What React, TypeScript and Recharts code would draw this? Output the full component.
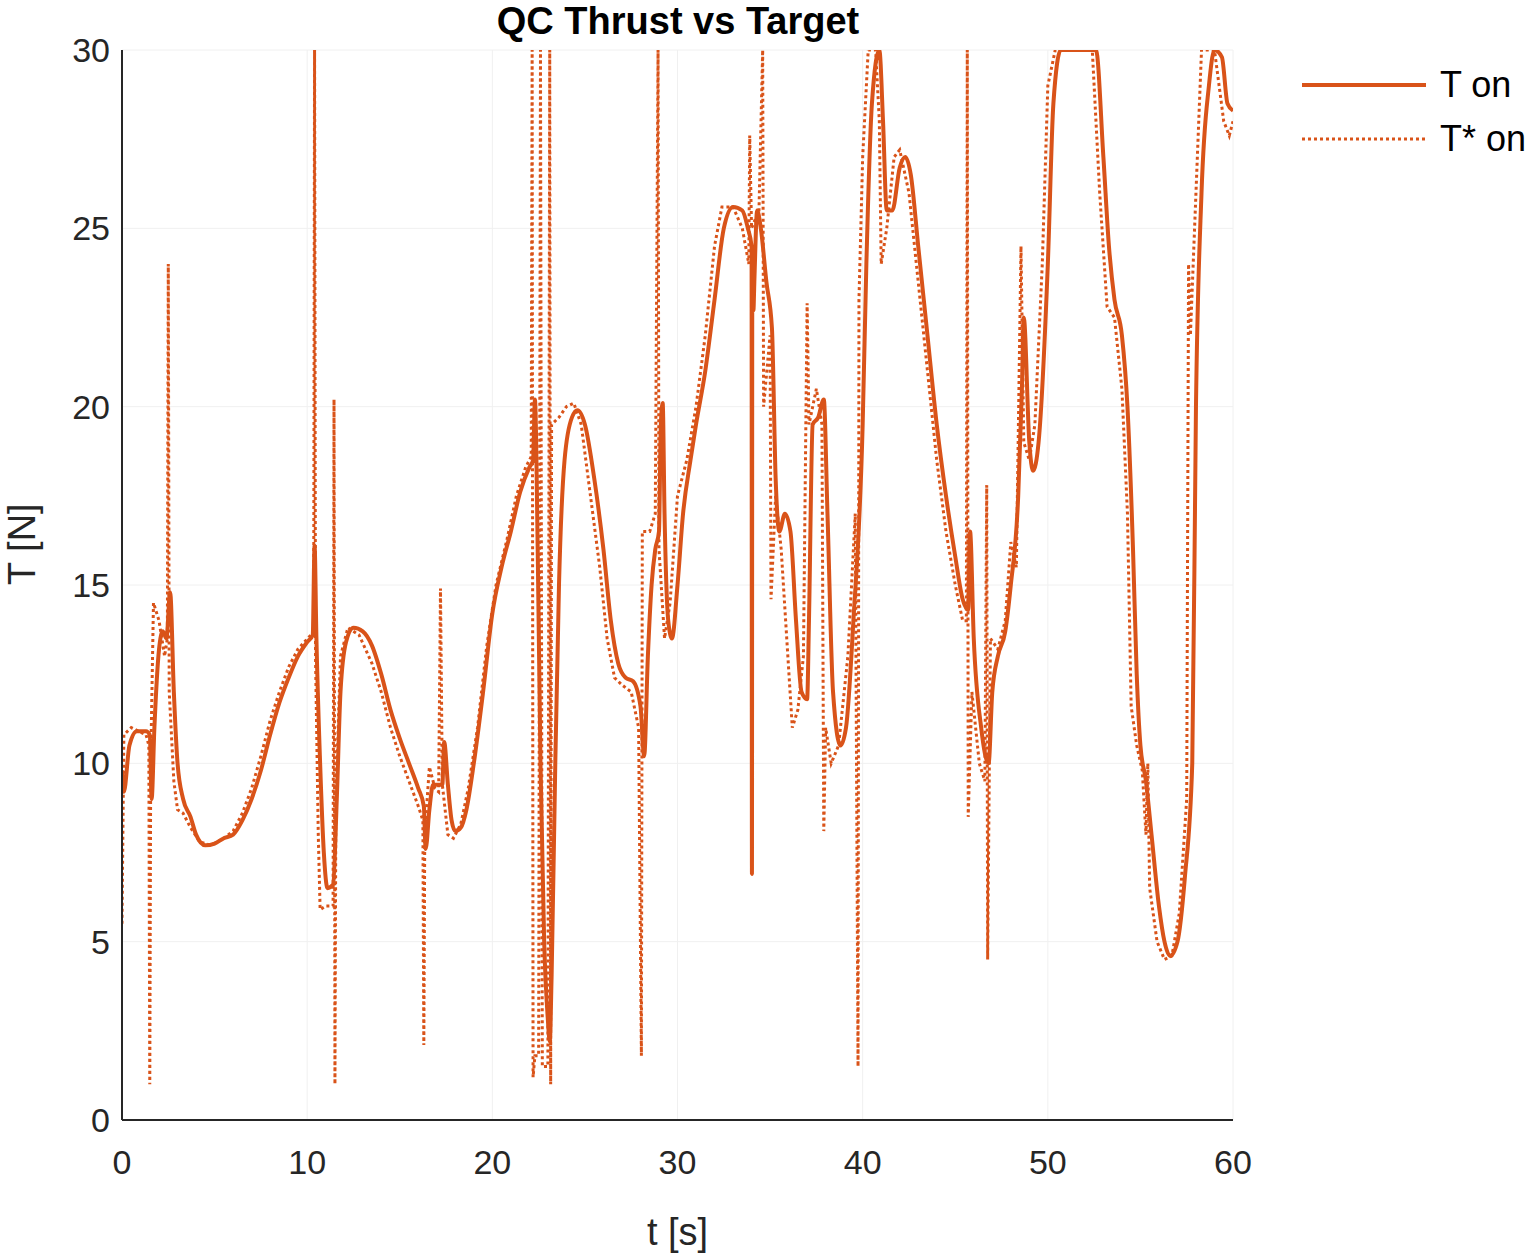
import React from "react";
import { LineChart, Line, XAxis, YAxis, CartesianGrid } from "recharts";

const tOn: [number, number][] = [
[0,9.8],[0.1,9.2],[0.4,10.5],[0.8,10.9],[1.3,10.9],[1.5,10.8],[1.6,9.0],[1.75,11],[2.0,13.2],[2.2,13.7],[2.4,13.5],[2.6,14.8],[2.8,12],[3.0,10],[3.3,9.0],[3.7,8.5],[4.0,8.0],[4.5,7.7],[5,7.75],[5.5,7.9],[6,8.0],[6.5,8.4],[7,9.0],[7.5,9.8],[8,10.8],[8.5,11.7],[9,12.4],[9.5,13.0],[10,13.4],[10.3,13.6],[10.4,16.1],[10.5,13.5],[10.7,10],[10.9,7.5],[11.1,6.5],[11.4,6.6],[11.6,9],[11.8,12],[12.1,13.4],[12.5,13.8],[13,13.7],[13.5,13.3],[14,12.5],[14.5,11.5],[15,10.7],[15.5,10],[16,9.3],[16.3,8.8],[16.4,7.6],[16.6,8.7],[16.8,9.4],[17.1,9.4],[17.3,9.4],[17.4,10.6],[17.6,9.4],[17.8,8.4],[18,8.1],[18.3,8.2],[18.6,8.7],[19,10],[19.5,12],[20,14.2],[20.5,15.5],[21,16.5],[21.5,17.6],[22,18.3],[22.2,18.5],[22.3,20.2],[22.45,16],[22.6,10],[22.8,5],[23.0,2.8],[23.1,2.2],[23.2,4],[23.4,10],[23.6,15],[23.9,18.5],[24.3,19.7],[24.6,19.9],[25,19.5],[25.5,18],[26,16],[26.4,14],[26.8,12.8],[27.2,12.4],[27.6,12.3],[28,11.6],[28.2,10.2],[28.4,13],[28.6,15],[28.8,16],[29,16.5],[29.1,19.5],[29.2,20.1],[29.3,17],[29.5,14],[29.7,13.5],[30,15],[30.3,17],[30.7,18.5],[31,19.5],[31.5,21],[32,23],[32.5,25],[33,25.6],[33.5,25.5],[33.8,25],[34.0,24.5],[34.02,6.9],[34.04,24.3],[34.1,22.7],[34.15,23.5],[34.3,25.5],[34.5,25],[34.8,23.5],[35.1,22.2],[35.3,18],[35.5,16.5],[35.8,17],[36.1,16.5],[36.4,14],[36.7,12],[37,11.8],[37.1,14],[37.3,19.5],[37.6,19.7],[37.9,20.2],[38.1,17],[38.4,12],[38.8,10.5],[39.1,11],[39.5,14],[40,19.5],[40.2,24],[40.5,28.5],[40.9,30],[41.1,28],[41.3,25.5],[41.6,25.5],[42,26.7],[42.3,27],[42.6,26.5],[43,24.5],[43.5,22],[44,19.5],[44.5,17.5],[45,15.8],[45.4,14.6],[45.7,14.3],[45.8,16.5],[46,13.5],[46.4,11],[46.8,10],[47,12],[47.3,13],[47.7,13.7],[48,15],[48.4,17.5],[48.6,20.5],[48.7,22.5],[49,19],[49.2,18.2],[49.5,19],[50,24],[50.3,28.5],[50.7,30],[51,30],[52,30],[52.6,30],[53,27],[53.3,24.5],[53.6,23],[54,22],[54.3,20],[54.6,16],[54.8,12.5],[55,10.5],[55.3,9.5],[55.6,8],[56,6],[56.3,5],[56.6,4.6],[57,5],[57.4,6.8],[57.8,10],[58,20],[58.3,26],[58.7,29],[59,30],[59.4,29.8],[59.7,28.5],[60,28.3]
];

const tStar: [number, number][] = [
[0,5.5],[0.1,10.8],[0.5,11],[1.3,10.8],[1.45,10.5],[1.5,1.0],[1.55,10],[1.7,14.5],[2.0,14],[2.3,13],[2.45,13.5],[2.5,24],[2.55,12],[2.8,9.5],[3.0,8.7],[3.3,8.6],[3.7,8.2],[4.2,7.8],[4.8,7.7],[5.5,7.9],[6,8.1],[6.5,8.6],[7,9.3],[7.5,10.2],[8,11.2],[8.5,12],[9,12.7],[9.5,13.2],[10.2,13.6],[10.35,13.6],[10.4,30],[10.45,13],[10.6,8],[10.7,5.9],[11.0,6.0],[11.4,6.0],[11.45,20.2],[11.5,1.0],[11.55,9],[11.8,13],[12.2,13.8],[12.8,13.6],[13.5,12.8],[14,12],[14.5,11],[15,10.2],[15.5,9.5],[16,8.8],[16.25,8.4],[16.3,2.1],[16.35,8],[16.6,9.9],[16.9,9.3],[17.1,9.2],[17.2,14.9],[17.3,9.4],[17.6,8],[17.9,7.9],[18.3,8.3],[18.7,9.3],[19.2,11],[19.7,13.3],[20.2,15],[20.8,16.3],[21.3,17.5],[21.8,18.3],[22.1,18.6],[22.15,30],[22.2,1.2],[22.3,1.8],[22.5,1.8],[22.6,30],[22.7,1.5],[23.0,1.5],[23.1,30],[23.15,1.0],[23.2,19.5],[23.6,19.7],[24,20],[24.4,20.1],[24.8,19.5],[25.3,17.5],[25.8,15.5],[26.2,13.5],[26.6,12.4],[27,12.2],[27.5,12],[27.9,11],[28.05,1.8],[28.1,16.5],[28.5,16.5],[28.8,17],[28.95,30],[29.0,16],[29.3,13.5],[29.6,14.5],[30,17.5],[30.5,18.5],[31,20],[31.5,22],[32,24.5],[32.4,25.6],[33,25.6],[33.5,25],[33.85,24],[33.9,27.6],[34.0,25],[34.4,25.5],[34.6,30],[34.65,20],[35.0,22],[35.05,14.6],[35.3,17.5],[35.6,16],[35.9,13.5],[36.2,11],[36.5,11.5],[36.8,13],[37.0,22.9],[37.1,19.5],[37.5,20.5],[37.8,19.5],[37.9,8.1],[38.0,11],[38.3,10],[38.7,10.5],[39.2,13],[39.6,17],[39.75,1.5],[39.8,23],[40.0,27],[40.3,30],[40.7,30],[40.9,28],[41.0,24],[41.3,25],[41.7,27],[42,27.2],[42.5,26],[43,23.5],[43.5,21],[44,18.5],[44.5,16.5],[45,15],[45.4,14],[45.6,14],[45.65,30],[45.7,8.5],[45.9,12],[46.3,10],[46.6,9.5],[46.7,17.8],[46.75,4.5],[46.9,13.5],[47.3,13.2],[47.7,14],[48.0,16.2],[48.3,15.5],[48.55,24.5],[48.7,19],[49.0,18.5],[49.3,19.5],[49.7,24],[50,29],[50.4,30],[52.4,30],[52.8,26],[53.2,22.8],[53.6,22.5],[54,20.5],[54.3,17],[54.5,11.6],[54.8,10.5],[55.1,9.8],[55.3,8],[55.4,10],[55.5,6.5],[55.9,5],[56.3,4.5],[56.7,4.6],[57.1,5.8],[57.5,9],[57.6,24],[57.7,22],[58.0,26],[58.3,30],[59,30],[59.5,28],[59.8,27.6],[60,28]
];

const toRows = (a: [number, number][]) => a.map(([t, v]) => ({ t, v }));
const xTicks = [0, 10, 20, 30, 40, 50, 60];
const yTicks = [0, 5, 10, 15, 20, 25, 30];
const C = "#D95319";
const font = "'Liberation Sans', Arial, sans-serif";

export default function App() {
  return (
    <div style={{ position: "absolute", left: 0, top: 0, width: 1536, height: 1253, background: "#fff", fontFamily: font }}>
      <div style={{ position: "absolute", left: 0, width: 1356, top: 0, textAlign: "center", fontWeight: "bold", fontSize: 38, color: "#000" }}>QC Thrust vs Target</div>
      <LineChart width={1536} height={1253} margin={{ top: 50, right: 303, left: 0, bottom: 0 }}>
        <CartesianGrid stroke="#f0f0f0" strokeWidth={1} />
        <XAxis type="number" dataKey="t" domain={[0, 60]} ticks={xTicks} height={133} tickLine={false} allowDataOverflow
          axisLine={{ stroke: "#262626", strokeWidth: 2 }}
          tick={{ fontSize: 34, fill: "#262626", fontFamily: font, dy: 22 }}
          label={{ value: "t [s]", position: "insideBottom", offset: 8, fontSize: 38, fill: "#262626", fontFamily: font }} />
        <YAxis type="number" domain={[0, 30]} ticks={yTicks} width={122} tickLine={false} allowDataOverflow
          axisLine={{ stroke: "#262626", strokeWidth: 2 }}
          tick={{ fontSize: 34, fill: "#262626", fontFamily: font, dx: -4 }}
          label={{ value: "T [N]", angle: -90, position: "insideLeft", offset: 0, dx: 22, fontSize: 38, fill: "#262626", fontFamily: font }} />
        <Line data={toRows(tStar)} dataKey="v" stroke={C} strokeWidth={3} strokeDasharray="3 3" dot={false} isAnimationActive={false} type="linear" />
        <Line data={toRows(tOn)} dataKey="v" stroke={C} strokeWidth={4} dot={false} isAnimationActive={false} type="monotone" />
      </LineChart>
      <div style={{ position: "absolute", left: 1302, top: 58, fontSize: 36, color: "#000", lineHeight: "54px" }}>
        <div style={{ display: "flex", alignItems: "center" }}>
          <svg width={126} height={10}><line x1={0} y1={5} x2={124} y2={5} stroke={C} strokeWidth={4} /></svg>
          <span style={{ marginLeft: 12 }}>T on</span>
        </div>
        <div style={{ display: "flex", alignItems: "center" }}>
          <svg width={126} height={10}><line x1={0} y1={5} x2={124} y2={5} stroke={C} strokeWidth={3} strokeDasharray="3 3" /></svg>
          <span style={{ marginLeft: 12 }}>T* on</span>
        </div>
      </div>
    </div>
  );
}
